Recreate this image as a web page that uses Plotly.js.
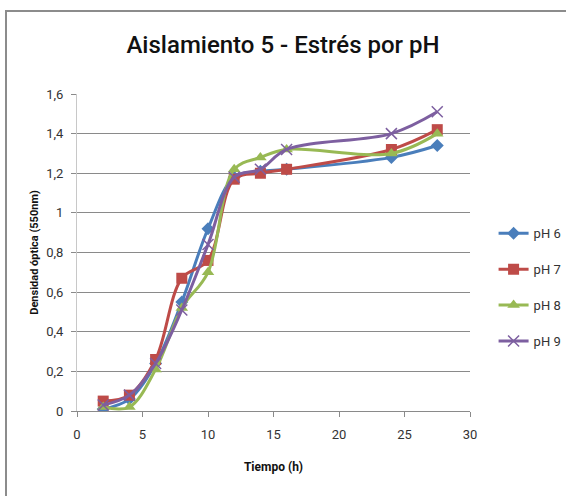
<!DOCTYPE html>
<html>
<head>
<meta charset="utf-8">
<script src="https://cdn.plot.ly/plotly-3.0.1.min.js"></script>
<style>
  html, body { margin: 0; padding: 0; background: #fff; }
  #wrap { position: relative; width: 566px; height: 496px; }
  #chart { width: 566px; height: 496px; }
  #frame { position: absolute; left: 5px; top: 10px; right: 0; bottom: 0;
           border-left: 2px solid #8c8c8c; border-top: 2px solid #8c8c8c;
           pointer-events: none; }
</style>
</head>
<body>
<div id="wrap">
  <div id="chart"></div>
  <div id="frame"></div>
</div>
<script>
// Sampling times (h)
const tiempo = [2, 4, 6, 8, 10, 12, 14, 16, 24, 27.5];

// Optical density at 550 nm for each pH condition
const ph6 = [0.01, 0.06, 0.24, 0.55, 0.92, 1.18, 1.21, 1.22, 1.28, 1.34];
const ph7 = [0.05, 0.08, 0.26, 0.67, 0.76, 1.17, 1.20, 1.22, 1.32, 1.42];
const ph8 = [0.02, 0.02, 0.21, 0.52, 0.70, 1.22, 1.28, 1.32, 1.30, 1.40];
const ph9 = [0.03, 0.08, 0.24, 0.51, 0.84, 1.18, 1.22, 1.32, 1.40, 1.51];

const seriesNames = ['pH 6', 'pH 7', 'pH 8', 'pH 9'];
const seriesValues = [ph6, ph7, ph8, ph9];
const colors = ['#4A7EBB', '#BE4B48', '#98B954', '#7D5FA0'];
const symbols = ['diamond', 'square', 'triangle-up', 'x-thin-open'];
const markerSizes = [10, 11, 11, 11];

const traces = seriesNames.map((name, i) => ({
  x: tiempo,
  y: seriesValues[i],
  name: name,
  legendgroup: 'g' + i,
  type: 'scatter',
  mode: 'lines+markers',
  line: { color: colors[i], width: 3, shape: 'spline', smoothing: 1 },
  marker: {
    symbol: symbols[i],
    size: markerSizes[i],
    color: colors[i],
    line: { color: colors[i], width: i === 3 ? 1.5 : 0 }
  }
}));

const font = 'Roboto, Liberation Sans, sans-serif';

const layout = {
  width: 566,
  height: 496,
  margin: { l: 77, r: 96, t: 94, b: 85, autoexpand: false },
  paper_bgcolor: '#ffffff',
  plot_bgcolor: '#ffffff',
  separators: ', ',
  font: { family: font, color: '#333333', size: 13 },
  showlegend: true,
  title: {
    text: 'Aislamiento 5 - Estrés por pH',
    font: { family: font, size: 24, color: '#111111', weight: 500 },
    x: 0.5, xanchor: 'center',
    y: 0.91, yanchor: 'middle'
  },
  xaxis: {
    range: [0, 30],
    dtick: 5,
    showgrid: false,
    zeroline: false,
    showline: true,
    linecolor: '#8a8a8a',
    linewidth: 1,
    ticks: 'outside',
    ticklen: 5,
    tickcolor: '#8a8a8a',
    ticklabelstandoff: 6,
    tickfont: { family: font, size: 13, color: '#333333' },
    title: { text: '<b>Tiempo (h)</b>', font: { family: font, size: 12, color: '#111111' }, standoff: 22 }
  },
  yaxis: {
    range: [0, 1.6],
    dtick: 0.2,
    showgrid: true,
    gridcolor: '#8a8a8a',
    gridwidth: 1,
    zeroline: false,
    showline: true,
    linecolor: '#c8c8c8',
    linewidth: 1,
    ticks: 'outside',
    ticklen: 5,
    tickcolor: '#8a8a8a',
    ticklabelstandoff: 5,
    tickfont: { family: font, size: 13, color: '#333333' },
    title: { text: '<b>Densidad óptica (550nm)</b>', font: { family: font, size: 11, color: '#111111' }, standoff: 5 }
  },
  legend: {
    x: 1.06, xanchor: 'left',
    y: 0.39, yanchor: 'middle',
    traceorder: 'grouped',
    tracegroupgap: 16,
    itemwidth: 30,
    font: { family: font, size: 13, color: '#333333' },
    bgcolor: 'rgba(0,0,0,0)'
  }
};

Plotly.newPlot('chart', traces, layout, { displayModeBar: false, staticPlot: true });
</script>
</body>
</html>
